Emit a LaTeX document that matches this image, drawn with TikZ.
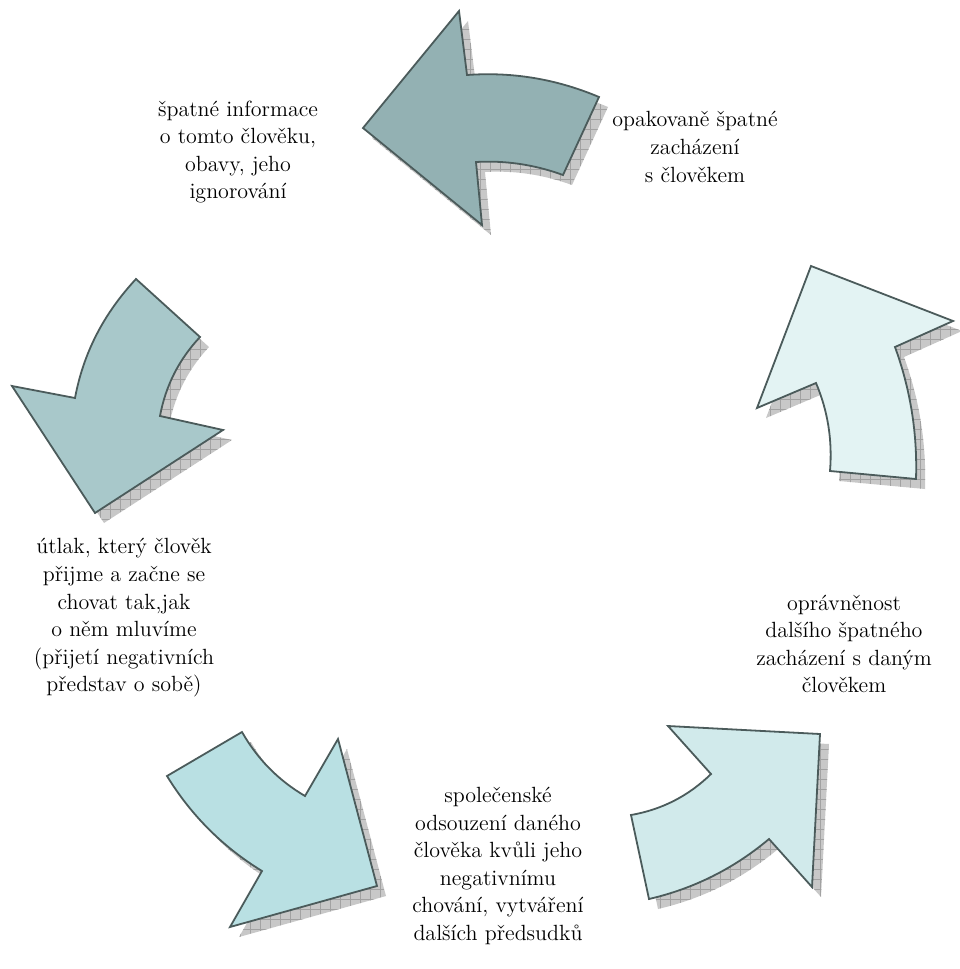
\documentclass[tikz,border=0pt]{standalone}
\usepackage{tikz}
\usetikzlibrary{patterns.meta}

\definecolor{edgegray}{HTML}{4B5B5B}
\definecolor{shadowgray}{HTML}{C8C8C8}
\definecolor{gridgray}{HTML}{A2A2A2}
\definecolor{topteal}{HTML}{93B1B3}
\definecolor{leftteal}{HTML}{A8C8CA}
\definecolor{botlteal}{HTML}{B9E0E3}
\definecolor{botrteal}{HTML}{D1EAEB}
\definecolor{rightteal}{HTML}{E3F3F3}

% outlines of the five curved arrows (pixel units)
\newcommand{\cycTop}{(363,128) -- (459,11) -- (467,75)
  .. controls (512.3,71.7) and (556.3,79) .. (599,97) -- (563,175)
  .. controls (534.7,164.7) and (505.7,160.3) .. (476,162) -- (482,225) -- cycle}
\newcommand{\cycRight}{(811,266) -- (953,321) -- (895,347)
  .. controls (910.5,389.7) and (917.5,433.7) .. (916,479) -- (830,471)
  .. controls (832.5,440.5) and (827.9,411.1) .. (816,383) -- (757,408) -- cycle}
\newcommand{\cycBotR}{(668,726) -- (711,774)
  .. controls (688.6,795.9) and (661.9,809.6) .. (631,815) -- (649,899)
  .. controls (693.8,888.6) and (733.8,868.6) .. (769,839) -- (812,887) -- (820,734) -- cycle}
\newcommand{\cycBotL}{(242,732)
  .. controls (257.3,758.9) and (278.3,780.3) .. (305,796) -- (338,739) -- (377,886)
  -- (230,927) -- (262,871)
  .. controls (222.7,846.9) and (191.1,815.3) .. (167,776) -- cycle}
\newcommand{\cycLeft}{(75,398)
  .. controls (83.5,352.6) and (103.8,313.6) .. (136,279) -- (200,337)
  .. controls (178.9,359.5) and (165.6,385.8) .. (160,416) -- (223,430) -- (95,513) -- (12,386) -- cycle}

\begin{document}
\begin{tikzpicture}[x=0.5pt,y=-0.5pt,
  shadowgrid/.style={preaction={fill=shadowgray},
    pattern={Hatch[angle=0,distance=5pt,line width=0.35pt]},pattern color=gridgray,
    shift={(9,10)}},
  arrowbody/.style={draw=edgegray,line width=0.9pt,line join=miter},
  cycletext/.style={align=center,font=\fontsize{11}{13.8}\selectfont,inner sep=0pt}]
\useasboundingbox (0,0) rectangle (959,969);
% shadows
\fill[shadowgrid] \cycTop;
\fill[shadowgrid] \cycRight;
\fill[shadowgrid] \cycBotR;
\fill[shadowgrid] \cycBotL;
\fill[shadowgrid] \cycLeft;
% arrows
\filldraw[arrowbody,fill=topteal] \cycTop;
\filldraw[arrowbody,fill=rightteal] \cycRight;
\filldraw[arrowbody,fill=botrteal] \cycBotR;
\filldraw[arrowbody,fill=botlteal] \cycBotL;
\filldraw[arrowbody,fill=leftteal] \cycLeft;
% texts
\node[cycletext] (infotext) at (238,152) {špatné informace\\o tomto člověku,\\obavy, jeho\\ignorování};
\node[cycletext] (opaktext) at (695,147) {opakovaně špatné\\zacházení\\s člověkem};
\node[cycletext] (opravtext) at (844,644) {oprávněnost\\dalšího špatného\\zacházení s daným\\člověkem};
\node[cycletext] (utlaktext) at (124,618) {útlak, který člověk\\přijme a začne se\\chovat tak,jak\\o něm mluvíme\\(přijetí negativních\\představ o sobě)};
\node[cycletext] (spoltext) at (498,866) {společenské\\odsouzení daného\\člověka kvůli jeho\\negativnímu\\chování, vytváření\\dalších předsudků};
\end{tikzpicture}
\end{document}
